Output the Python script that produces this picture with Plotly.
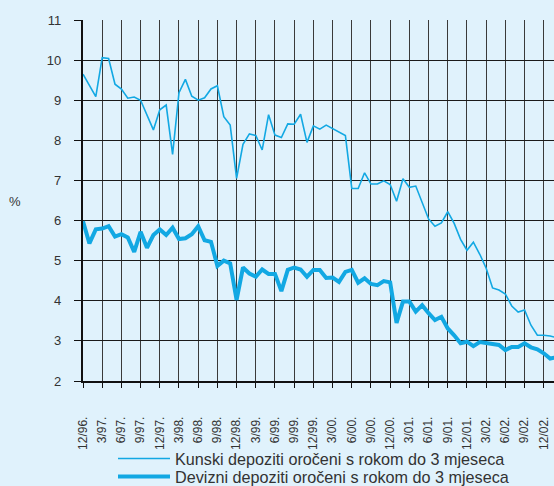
import plotly.graph_objects as go

tick_labels = ["12/96.", "3/97.", "6/97.", "9/97.", "12/97.", "3/98.", "6/98.", "9/98.",
               "12/98.", "3/99.", "6/99.", "9/99.", "12/99.", "3/00.", "6/00.", "9/00.",
               "12/00.", "3/01.", "6/01.", "9/01.", "12/01.", "3/02.", "6/02.", "9/02.", "12/02."]

# monthly values, starting 12/96
kunski = [9.65, 9.37, 9.09, 10.06, 10.04, 9.40, 9.28, 9.05, 9.08, 9.00,
          8.63, 8.26, 8.76, 8.88, 7.65, 9.19, 9.52, 9.10, 9.00, 9.06,
          9.28, 9.36, 8.59, 8.38, 7.05, 7.90, 8.16, 8.12, 7.76, 8.64,
          8.13, 8.07, 8.41, 8.40, 8.65, 7.95, 8.36, 8.28, 8.38, 8.30,
          8.21, 8.12, 6.80, 6.80, 7.19, 6.91, 6.91, 6.99, 6.90, 6.48,
          7.04, 6.83, 6.86, 6.43, 6.04, 5.86, 5.94, 6.22, 5.93, 5.53,
          5.26, 5.46, 5.16, 4.81, 4.32, 4.27, 4.17, 3.87, 3.72, 3.77,
          3.39, 3.14, 3.14, 3.12, 3.08]

devizni = [5.98, 5.43, 5.78, 5.80, 5.86, 5.60, 5.66, 5.58, 5.22, 5.72,
           5.32, 5.64, 5.78, 5.64, 5.82, 5.54, 5.56, 5.66, 5.86, 5.51,
           5.47, 4.87, 5.00, 4.93, 4.02, 4.83, 4.68, 4.60, 4.78, 4.67,
           4.67, 4.24, 4.77, 4.83, 4.78, 4.60, 4.77, 4.77, 4.57, 4.58,
           4.47, 4.72, 4.77, 4.45, 4.56, 4.42, 4.39, 4.49, 4.46, 3.45,
           3.98, 3.98, 3.73, 3.89, 3.69, 3.52, 3.60, 3.31, 3.14, 2.94,
           2.98, 2.87, 2.97, 2.94, 2.93, 2.90, 2.77, 2.85, 2.85, 2.94,
           2.84, 2.79, 2.69, 2.56, 2.59]

series_names = ["Kunski depoziti oročeni s rokom do 3 mjeseca",
                "Devizni depoziti oročeni s rokom do 3 mjeseca"]

months = list(range(len(kunski)))
tick_pos = [3 * i for i in range(len(tick_labels))]

LINE = "#12a8e3"
BG = "#e0f2fc"
TXT = "#333333"
FONT = "Liberation Sans, Arial, sans-serif"

fig = go.Figure()
fig.add_trace(go.Scatter(x=months, y=kunski, mode="lines", name=series_names[0],
                         line=dict(color=LINE, width=1.6), legend="legend"))
fig.add_trace(go.Scatter(x=months, y=devizni, mode="lines", name=series_names[1],
                         line=dict(color=LINE, width=4), legend="legend2"))

leg_common = dict(orientation="v", xanchor="left", yanchor="middle",
                  bgcolor="rgba(0,0,0,0)", font=dict(size=16.2, color=TXT),
                  itemwidth=52)

fig.update_layout(
    width=554, height=486,
    margin=dict(l=83, r=0, t=20, b=105, autoexpand=False),
    paper_bgcolor=BG, plot_bgcolor=BG,
    font=dict(family=FONT, color=TXT, size=13),
    showlegend=True,
    legend=dict(x=0.0637, y=-0.216, **leg_common),
    legend2=dict(x=0.0637, y=-0.266, **leg_common),
    xaxis=dict(range=[0, 73.6], tickmode="array", tickvals=tick_pos, ticktext=tick_labels,
               tickangle=-90, ticks="outside", ticklen=5, tickcolor="#111", tickwidth=1,
               showgrid=True, gridcolor="#3a3a3a", gridwidth=1.2, automargin=False,
               showline=True, linecolor="#111", linewidth=1.5, zeroline=False,
               tickfont=dict(size=12, color=TXT), ticklabelstandoff=24),
    yaxis=dict(range=[2, 11], tickmode="array", tickvals=list(range(2, 12)),
               ticks="outside", ticklen=7, tickcolor="#111", tickwidth=1.2,
               showgrid=True, gridcolor="#1a1a1a", gridwidth=1.2, automargin=False,
               showline=True, linecolor="#111", linewidth=2.2, zeroline=False,
               tickfont=dict(size=13, color=TXT), ticklabelstandoff=10),
    annotations=[dict(text="%", xref="paper", yref="paper", x=-0.1444, y=0.4986,
                      xanchor="center", yanchor="middle",
                      showarrow=False, font=dict(size=13, color=TXT))],
)

fig.write_html(
    "out.html",
    config={"displayModeBar": False},
    post_script=("document.body.style.margin='0';"
                 "document.body.style.background='" + BG + "';"
                 "document.documentElement.style.overflow='hidden';"),
)
